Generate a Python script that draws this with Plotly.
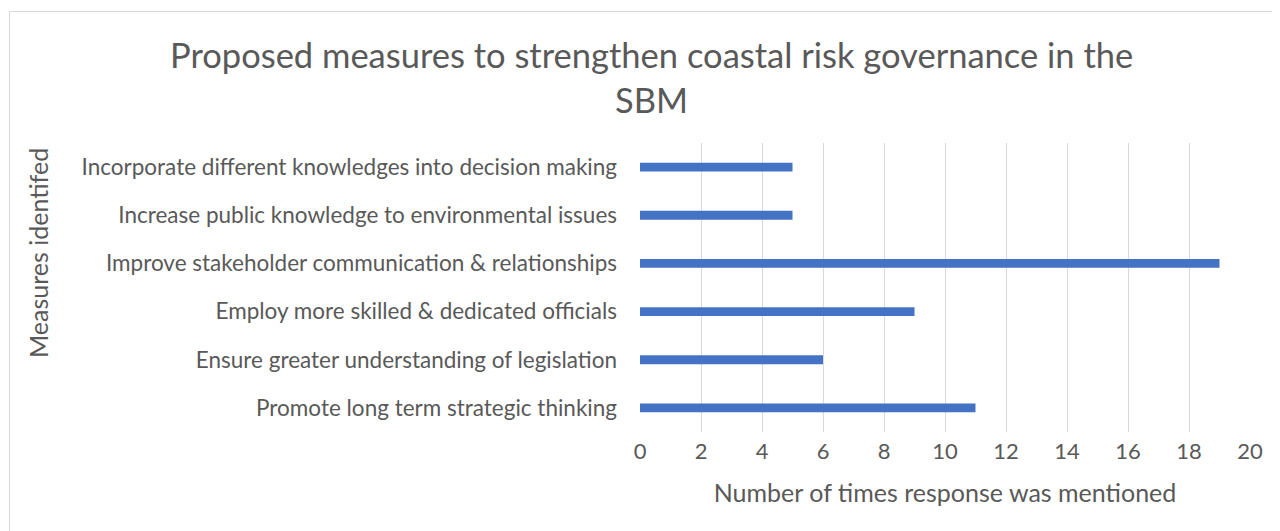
import plotly.graph_objects as go

categories = [
    "Promote long term strategic thinking",
    "Ensure greater understanding of legislation",
    "Employ more skilled & dedicated officials",
    "Improve stakeholder communication & relationships",
    "Increase public knowledge to environmental issues",
    "Incorporate different knowledges into decision making",
]
values = [11, 6, 9, 19, 5, 5]
x_ticks = list(range(0, 21, 2))

OFF = 8  # page body margin
W, H = 1280 - OFF, 531 - OFF
L, R, T, B = 640 - OFF, 30, 143 - OFF, 99
pw, ph = W - L - R, H - T - B

def px(x):
    return (x - OFF - L) / pw

def py(y):
    return (H - B - (y - OFF)) / ph

TXT = "#595959"
FONT = "Lato"

fig = go.Figure(go.Bar(
    y=categories, x=values, orientation="h",
    marker=dict(color="#4472C4", line=dict(width=0)),
    width=0.185,
))

fig.update_layout(
    width=W, height=H,
    margin=dict(l=L, r=R, t=T, b=B),
    plot_bgcolor="white", paper_bgcolor="white",
    showlegend=False,
    font=dict(family=FONT, color=TXT, size=22),
    xaxis=dict(
        range=[0, 20], tickvals=x_ticks, showgrid=True, gridcolor="#D9D9D9",
        gridwidth=1, zeroline=False, showline=False, ticks="",
        tickfont=dict(size=22, color=TXT), ticklabelstandoff=4,
        title=dict(text="Number of times response was mentioned",
                   font=dict(size=25, color=TXT), standoff=21),
    ),
    yaxis=dict(
        showgrid=False, zeroline=False, showline=False, ticks="",
        tickfont=dict(size=22.5, color=TXT), ticklabelstandoff=22,
        automargin=False,
    ),
    annotations=[
        dict(text="Proposed measures to strengthen coastal risk governance in the<br>SBM",
             xref="paper", yref="paper", x=px(651), y=py(77), showarrow=False,
             xanchor="center", yanchor="middle",
             font=dict(size=34.5, color=TXT, family=FONT)),
        dict(text="Measures identifed", xref="paper", yref="paper",
             x=px(38), y=py(253), textangle=-90, showarrow=False,
             xanchor="center", yanchor="middle",
             font=dict(size=25, color=TXT, family=FONT)),
    ],
    shapes=[dict(type="rect", xref="paper", yref="paper",
                 x0=px(9.5), x1=px(1300), y0=py(11.5), y1=py(560),
                 line=dict(color="#D9D9D9", width=1), fillcolor="rgba(0,0,0,0)",
                 layer="below")],
)

fig.write_html("out.html")
